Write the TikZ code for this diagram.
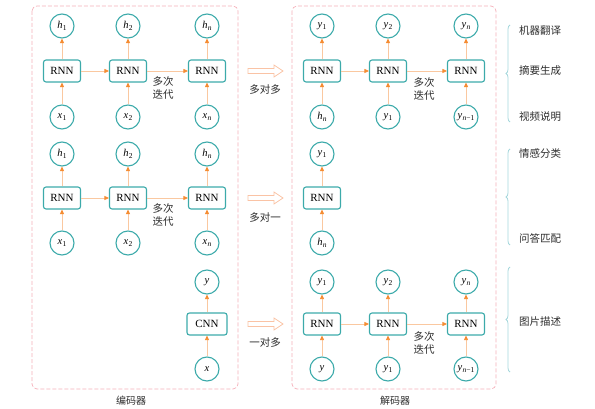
\documentclass[tikz,border=0pt]{standalone}
\usepackage{fontspec}
\setmainfont{Liberation Serif}
\newfontfamily\cjk{Noto Sans CJK SC}
\usetikzlibrary{arrows.meta,decorations.pathreplacing}
\definecolor{tealc}{RGB}{60,170,170}
\definecolor{arrline}{RGB}{250,200,160}
\definecolor{arrtip}{RGB}{245,140,50}
\definecolor{pinkd}{RGB}{245,175,185}
\definecolor{bracec}{RGB}{165,215,220}
\definecolor{blockc}{RGB}{250,195,165}
\definecolor{txt}{RGB}{45,45,45}
\newcommand\vs[2]{\textit{#1}\kern0.3pt\raisebox{-0.45ex}{\fontsize{7.5}{8}\selectfont #2}}
\begin{document}
\begin{tikzpicture}[x=1pt,y=-1pt,
  circ/.style={circle,draw=tealc,line width=1.1pt,minimum size=24pt,inner sep=0pt,font=\fontsize{10.5}{12}\selectfont},
  rnn/.style={rectangle,rounded corners=2.5pt,draw=tealc,line width=1.1pt,minimum width=37pt,minimum height=22pt,inner sep=0pt,font=\fontsize{11}{13}\selectfont},
  conn/.style={draw=arrline,line width=0.8pt,-{Triangle[length=4.5pt,width=4pt,color=arrtip]}},
  lbl/.style={font=\cjk\fontsize{10.5}{12.5}\selectfont,text=txt,align=center,inner sep=0pt},
  dbox/.style={draw=pinkd,dash pattern=on 4pt off 2pt,rounded corners=5pt,line width=0.7pt},
  brc/.style={draw=bracec,line width=0.8pt,decorate,decoration={brace,amplitude=4pt}},
  barrow/.pic={\draw[blockc,line width=0.8pt] (-17.5,-2.5) -- (8.5,-2.5) -- (8.5,-6) -- (17.5,0) -- (8.5,6) -- (8.5,2.5) -- (-17.5,2.5) -- cycle;}
]
\useasboundingbox (0,0) rectangle (595,409);

% dashed boxes
\draw[dbox] (32,6) rectangle (238,389);
\draw[dbox] (292,6) rectangle (496,389);
\node[lbl,font=\cjk\fontsize{10}{12}\selectfont] (enc) at (131,401) {编码器};
\node[lbl,font=\cjk\fontsize{10}{12}\selectfont] (dec) at (395,401) {解码器};

% ===== Row 1 encoder =====
\node[circ] (a1h1) at (62,26) {\vs{h}{1}};
\node[circ] (a1h2) at (128,26) {\vs{h}{2}};
\node[circ] (a1h3) at (207,26) {\vs{h}{\textit{n}}};
\node[rnn] (a1r1) at (62,71) {RNN};
\node[rnn] (a1r2) at (128,71) {RNN};
\node[rnn] (a1r3) at (207,71) {RNN};
\node[circ] (a1x1) at (62,117) {\vs{x}{1}};
\node[circ] (a1x2) at (128,117) {\vs{x}{2}};
\node[circ] (a1x3) at (207,117) {\vs{x}{\textit{n}}};
\node[lbl] (a1it) at (163,88) {多次\\迭代};
\foreach \i in {1,2,3}{
  \draw[conn] (a1x\i) -- (a1r\i);
  \draw[conn] (a1r\i) -- (a1h\i);
}
\draw[conn] (a1r1) -- (a1r2);
\draw[conn] (a1r2) -- (a1r3);

% ===== Row 1 decoder =====
\node[circ] (b1y1) at (322,26) {\vs{y}{1}};
\node[circ] (b1y2) at (388,26) {\vs{y}{2}};
\node[circ] (b1y3) at (466,26) {\vs{y}{\textit{n}}};
\node[rnn] (b1r1) at (322,71) {RNN};
\node[rnn] (b1r2) at (388,71) {RNN};
\node[rnn] (b1r3) at (466,71) {RNN};
\node[circ] (b1x1) at (322,117) {\vs{h}{\textit{n}}};
\node[circ] (b1x2) at (388,117) {\vs{y}{1}};
\node[circ] (b1x3) at (466,117) {\vs{y}{\textit{n}−1}};
\node[lbl] (b1it) at (424,89) {多次\\迭代};
\foreach \i in {1,2,3}{
  \draw[conn] (b1x\i) -- (b1r\i);
  \draw[conn] (b1r\i) -- (b1y\i);
}
\draw[conn] (b1r1) -- (b1r2);
\draw[conn] (b1r2) -- (b1r3);

\pic at (265.5,71) {barrow};
\node[lbl] (m1) at (265,90) {多对多};

% ===== Row 2 encoder =====
\node[circ] (a2h1) at (62,154) {\vs{h}{1}};
\node[circ] (a2h2) at (128,154) {\vs{h}{2}};
\node[circ] (a2h3) at (207,154) {\vs{h}{\textit{n}}};
\node[rnn] (a2r1) at (62,198) {RNN};
\node[rnn] (a2r2) at (128,198) {RNN};
\node[rnn] (a2r3) at (207,198) {RNN};
\node[circ] (a2x1) at (62,243) {\vs{x}{1}};
\node[circ] (a2x2) at (128,243) {\vs{x}{2}};
\node[circ] (a2x3) at (207,243) {\vs{x}{\textit{n}}};
\node[lbl] (a2it) at (163,215) {多次\\迭代};
\foreach \i in {1,2,3}{
  \draw[conn] (a2x\i) -- (a2r\i);
  \draw[conn] (a2r\i) -- (a2h\i);
}
\draw[conn] (a2r1) -- (a2r2);
\draw[conn] (a2r2) -- (a2r3);

% ===== Row 2 decoder =====
\node[circ] (b2y1) at (322,154) {\vs{y}{1}};
\node[rnn] (b2r1) at (322,198) {RNN};
\node[circ] (b2x1) at (322,243) {\vs{h}{\textit{n}}};
\draw[conn] (b2x1) -- (b2r1);
\draw[conn] (b2r1) -- (b2y1);

\pic at (265.5,198) {barrow};
\node[lbl] (m2) at (265,218) {多对一};

% ===== Row 3 encoder =====
\node[circ] (a3y) at (207,282) {\textit{y}};
\node[rnn,minimum width=40pt] (a3c) at (207,324) {CNN};
\node[circ] (a3x) at (207,369) {\textit{x}};
\draw[conn] (a3x) -- (a3c);
\draw[conn] (a3c) -- (a3y);

% ===== Row 3 decoder =====
\node[circ] (b3y1) at (322,282) {\vs{y}{1}};
\node[circ] (b3y2) at (388,282) {\vs{y}{2}};
\node[circ] (b3y3) at (466,282) {\vs{y}{\textit{n}}};
\node[rnn] (b3r1) at (322,324) {RNN};
\node[rnn] (b3r2) at (388,324) {RNN};
\node[rnn] (b3r3) at (466,324) {RNN};
\node[circ] (b3x1) at (322,369) {\textit{y}};
\node[circ] (b3x2) at (388,369) {\vs{y}{1}};
\node[circ] (b3x3) at (466,369) {\vs{y}{\textit{n}−1}};
\node[lbl] (b3it) at (424,343) {多次\\迭代};
\foreach \i in {1,2,3}{
  \draw[conn] (b3x\i) -- (b3r\i);
  \draw[conn] (b3r\i) -- (b3y\i);
}
\draw[conn] (b3r1) -- (b3r2);
\draw[conn] (b3r2) -- (b3r3);

\pic at (265.5,324) {barrow};
\node[lbl] (m3) at (265,343) {一对多};

% ===== braces and applications =====
\draw[brc] (510,122) -- (510,25);
\draw[brc] (510,245) -- (510,149);
\draw[brc] (510,372) -- (510,267);
\node[lbl,anchor=west] (t1) at (519,31) {机器翻译};
\node[lbl,anchor=west] (t2) at (519,71) {摘要生成};
\node[lbl,anchor=west] (t3) at (519,117) {视频说明};
\node[lbl,anchor=west] (t4) at (519,154) {情感分类};
\node[lbl,anchor=west] (t5) at (519,238) {问答匹配};
\node[lbl,anchor=west] (t6) at (519,322) {图片描述};
\end{tikzpicture}
\end{document}
